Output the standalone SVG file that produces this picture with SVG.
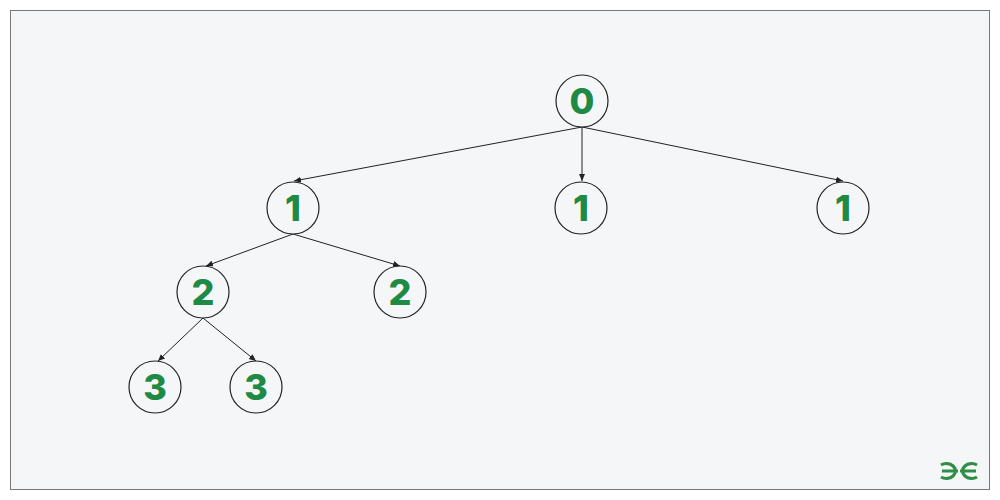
<svg xmlns="http://www.w3.org/2000/svg" width="1000" height="500" viewBox="0 0 1000 500">
<style>
.n circle{fill:#f4f6f8;stroke:#222;stroke-width:1.2}
.n text{font-family:"Inter","Liberation Sans",sans-serif;font-weight:800;font-size:36px;fill:#1e8a44;text-anchor:middle;dominant-baseline:central}
.e line{stroke:#222;stroke-width:1;marker-end:url(#a)}
</style>
<defs><marker id="a" markerWidth="8" markerHeight="8" refX="7" refY="3" orient="auto" markerUnits="userSpaceOnUse"><path d="M0,0L7,3L0,6z" fill="#222"/></marker></defs>
<rect x="0" y="0" width="1000" height="500" fill="#fff"/>
<rect x="10.5" y="10.5" width="979" height="479" fill="#f4f6f8" stroke="#777" stroke-width="1"/>
<g class="e" id="connectors">
<line x1="582" y1="127" x2="294" y2="181"/>
<line x1="582" y1="127" x2="582" y2="181"/>
<line x1="582" y1="127" x2="843" y2="181"/>
<line x1="293" y1="234" x2="206" y2="266"/>
<line x1="293" y1="234" x2="400" y2="266"/>
<line x1="203" y1="318" x2="158" y2="361"/>
<line x1="203" y1="318" x2="256" y2="361"/>
</g>
<g class="n" id="n0"><circle cx="582" cy="101" r="26"/><text x="582" y="101">0</text></g>
<g class="n" id="n1a"><circle cx="293" cy="208" r="26"/><text x="293" y="208">1</text></g>
<g class="n" id="n1b"><circle cx="581" cy="208" r="26"/><text x="581" y="208">1</text></g>
<g class="n" id="n1c"><circle cx="843" cy="208" r="26"/><text x="843" y="208">1</text></g>
<g class="n" id="n2a"><circle cx="203" cy="292" r="26"/><text x="203" y="292">2</text></g>
<g class="n" id="n2b"><circle cx="400" cy="292" r="26"/><text x="400" y="292">2</text></g>
<g class="n" id="n3a"><circle cx="155" cy="387" r="26"/><text x="155" y="387">3</text></g>
<g class="n" id="n3b"><circle cx="256" cy="387" r="26"/><text x="256" y="387">3</text></g>
<g id="logo" fill="none" stroke="#2f8d46" stroke-width="3.2">
<path d="M941,465 A9,7.5 0 1 1 941,477 M942,471 H958"/>
<path d="M977,465 A9,7.5 0 1 0 977,477 M976,471 H960"/>
</g>
</svg>
